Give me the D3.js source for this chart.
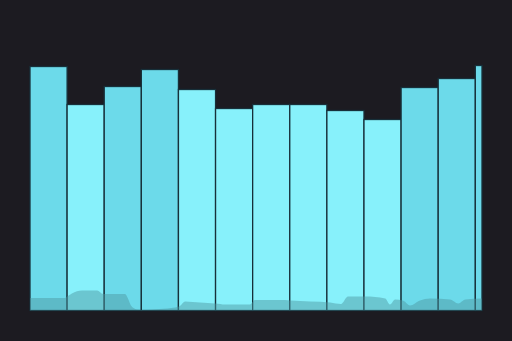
<!DOCTYPE html>
<html>
<head>
<meta charset="utf-8">
<script src="https://cdn.jsdelivr.net/npm/d3@7"></script>
<style>
  html, body { margin: 0; padding: 0; background: #1c1b21; }
  svg { display: block; }
</style>
</head>
<body>
<svg id="chart"></svg>
<script>
// Data
const barStarts = [0, 1, 2, 3, 4, 5, 6, 7, 8, 9, 10, 11, 12];
const barEnds = [1, 2, 3, 4, 5, 6, 7, 8, 9, 10, 11, 12, 12.18];
const barValues = [244, 206, 224, 241, 221, 202, 206, 206, 200, 191, 223, 232, 245];

const areaX = [0, 0.94, 1.0, 1.13, 1.4, 1.81, 1.97, 2.56, 2.64, 2.72, 2.88, 3.02, 3.5,
  3.91, 4.04, 4.18, 4.58, 4.99, 5.26, 5.93, 6.06, 6.87, 7.01, 7.55, 8.09, 8.38, 8.57,
  9.03, 9.57, 9.7, 9.84, 10.05, 10.24, 10.51, 10.78, 11.32, 11.54, 11.73, 12.18];
const areaValues = [12.5, 12.5, 14, 17, 20, 20, 16.5, 16.5, 12, 5, 1, 0.5, 1.5,
  3, 4.5, 9, 8, 7, 6, 6, 10.5, 10.5, 10, 9, 8, 6.5, 14,
  14, 12, 6, 11, 10, 5, 10, 12, 11, 7, 11, 12];

const width = 512, height = 341;

const svg = d3.select("svg#chart")
  .attr("width", width)
  .attr("height", height);

svg.append("rect")
  .attr("width", width)
  .attr("height", height)
  .style("fill", "#1c1b21");

const x = d3.scaleLinear().domain([0, 12.18]).range([30, 482]);
const y = d3.scaleLinear().domain([0, 260]).range([310.5, 50.5]);

// light bars for lower values, darker for the high ones
const color = d3.scaleThreshold().domain([222]).range(["#87f1fb", "#6cdaea"]);

const bars = barValues.map((v, i) => ({ x0: barStarts[i], x1: barEnds[i], value: v }));

svg.append("g")
  .selectAll("rect.bar")
  .data(bars)
  .join("rect")
  .attr("class", "bar")
  .attr("x", (d) => x(d.x0))
  .attr("y", (d) => y(d.value))
  .attr("width", (d) => x(d.x1) - x(d.x0))
  .attr("height", (d) => y(0) - y(d.value))
  .style("fill", (d) => color(d.value))
  .style("stroke", "#17303a")
  .style("stroke-width", 1.3);

// Area along the bottom
const area = d3.area()
  .x((d) => x(d[0]))
  .y0(y(0))
  .y1((d) => y(d[1]))
  .curve(d3.curveMonotoneX);

svg.append("path")
  .datum(areaX.map((v, i) => [v, areaValues[i]]))
  .attr("d", area)
  .style("fill", "rgb(78,150,160)")
  .style("fill-opacity", 0.48);
</script>
</body>
</html>
